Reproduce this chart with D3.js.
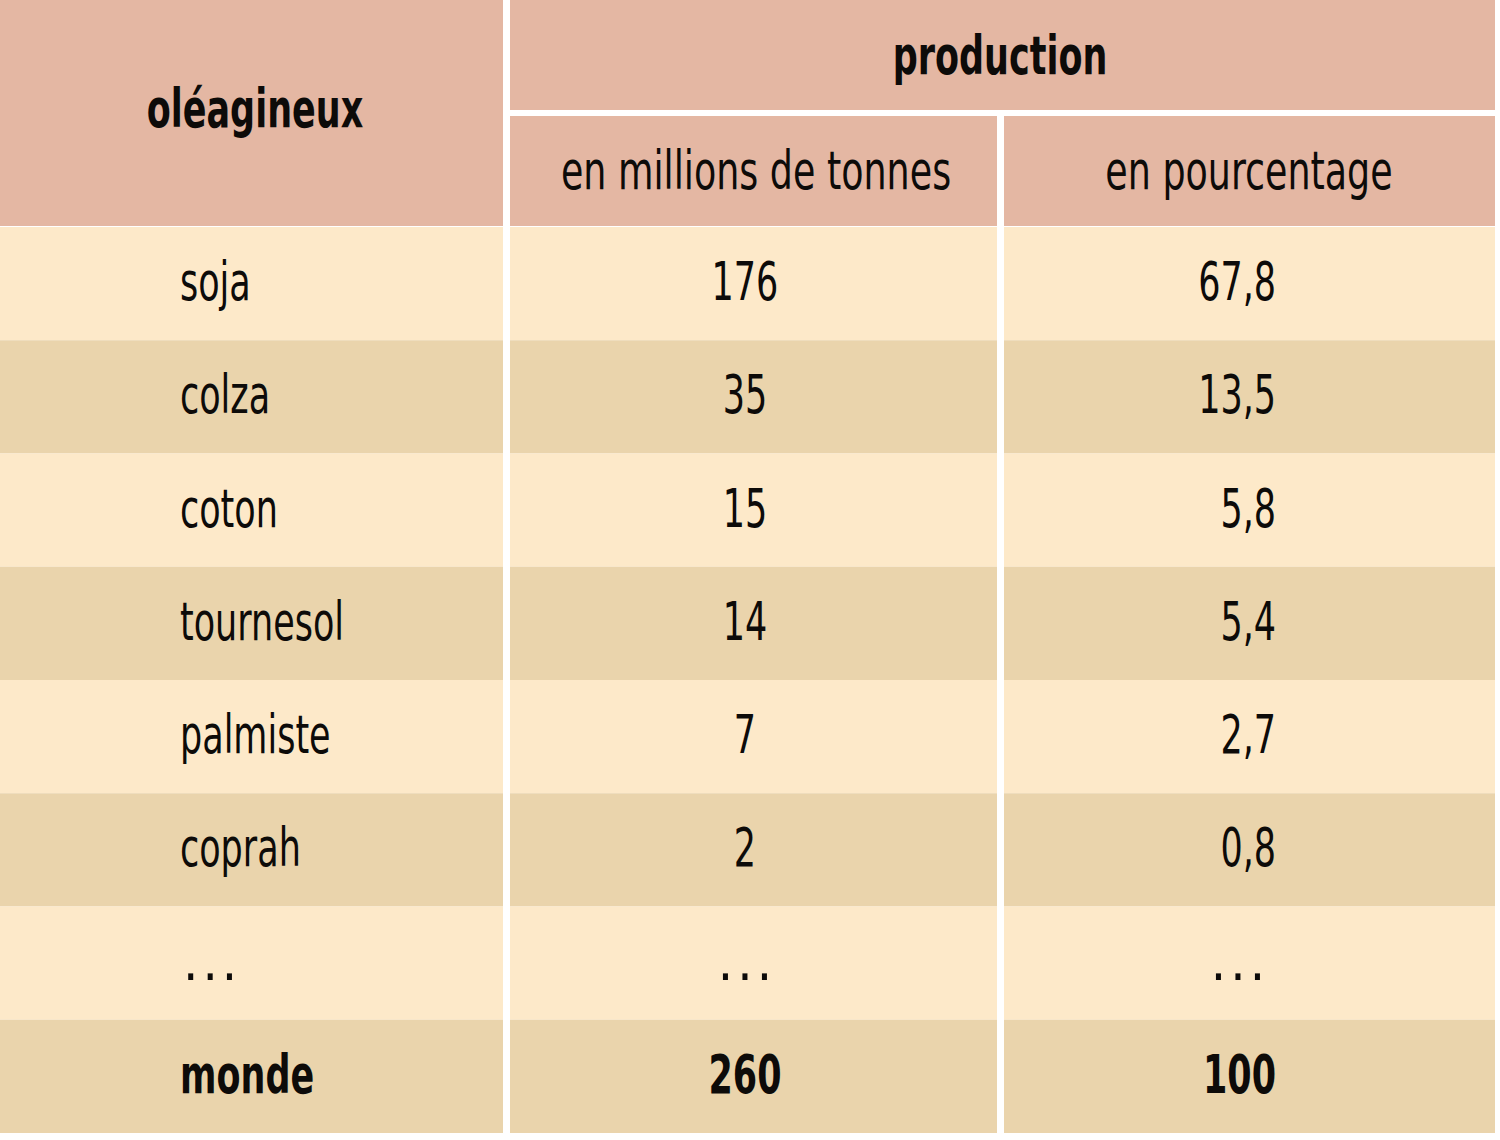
<!DOCTYPE html>
<html>
<head>
<meta charset="utf-8">
<script src="https://cdn.jsdelivr.net/npm/d3@7"></script>
<style>
  body { margin: 0; background: #fff; }
  text { font-family: "DejaVu Sans Condensed", "Liberation Sans Narrow", sans-serif; fill: #0d0b09; }
</style>
</head>
<body>
<div id="chart"></div>
<script>
var crops = ['soja', 'colza', 'coton', 'tournesol', 'palmiste', 'coprah', '...', 'monde'];
var tonnes = ['176', '35', '15', '14', '7', '2', '...', '260'];
var percents = ['67,8', '13,5', '5,8', '5,4', '2,7', '0,8', '...', '100'];

var headerTitle = 'oléagineux';
var groupTitle = 'production';
var subTitles = ['en millions de tonnes', 'en pourcentage'];

var width = 1500, height = 1140;
var headColor = '#e4b7a3', lightRow = '#fde9c9', darkRow = '#ead4ac';
var squeeze = 0.72;   // no condensed Myriad here, so squash DejaVu horizontally

var svg = d3.select('#chart').append('svg')
    .attr('width', width)
    .attr('height', height);

// columns: [x0, x1]
var cols = [[0, 503], [510, 997], [1004, 1495]];

var y = d3.scaleBand()
    .domain(d3.range(crops.length))
    .range([227, 1133]);

function place(x, yy, s) {
    return 'translate(' + x + ',' + yy + ') scale(' + (s || squeeze) + ',1)';
}
function isDots(t) { return t === '...'; }

// header
svg.append('rect').attr('x', cols[0][0]).attr('y', 0)
    .attr('width', cols[0][1] - cols[0][0]).attr('height', 226).attr('fill', headColor);
svg.append('rect').attr('x', cols[1][0]).attr('y', 0)
    .attr('width', cols[2][1] - cols[1][0]).attr('height', 110).attr('fill', headColor);
[1, 2].forEach(function (c) {
    svg.append('rect').attr('x', cols[c][0]).attr('y', 116)
        .attr('width', cols[c][1] - cols[c][0]).attr('height', 110).attr('fill', headColor);
});

svg.append('text').attr('transform', place(255, 127))
    .attr('text-anchor', 'middle').attr('font-size', 54).attr('font-weight', 'bold')
    .text(headerTitle);
svg.append('text').attr('transform', place(1000, 74))
    .attr('text-anchor', 'middle').attr('font-size', 54).attr('font-weight', 'bold')
    .text(groupTitle);
svg.append('text').attr('transform', place(756, 189, 0.75))
    .attr('text-anchor', 'middle').attr('font-size', 54)
    .text(subTitles[0]);
svg.append('text').attr('transform', place(1249, 189, 0.75))
    .attr('text-anchor', 'middle').attr('font-size', 54)
    .text(subTitles[1]);

// body rows
var rows = svg.selectAll('g.row')
    .data(crops)
    .enter().append('g')
    .attr('class', 'row')
    .attr('transform', function (d, i) { return 'translate(0,' + y(i) + ')'; });

cols.forEach(function (c) {
    rows.append('rect')
        .attr('x', c[0])
        .attr('width', c[1] - c[0])
        .attr('height', y.bandwidth())
        .attr('fill', function (d, i) { return i % 2 === 0 ? lightRow : darkRow; });
});

var last = crops.length - 1;
function weight(d, i) { return i === last ? 'bold' : 'normal'; }

function cell(sel, getText, x, anchor, dotX) {
    sel.append('text')
        .attr('transform', function (d, i) {
            var t = getText(d, i);
            return isDots(t) ? place(dotX, 73, 1) : place(x, 73);
        })
        .attr('text-anchor', function (d, i) { return isDots(getText(d, i)) ? (dotX === 183 ? 'start' : 'middle') : anchor; })
        .attr('letter-spacing', function (d, i) { return isDots(getText(d, i)) ? 4 : null; })
        .attr('font-size', 54)
        .attr('font-weight', weight)
        .text(getText);
}

cell(rows, function (d) { return d; }, 180, 'start', 183);
cell(rows, function (d, i) { return tonnes[i]; }, 745, 'middle', 747);
cell(rows, function (d, i) { return percents[i]; }, 1276, 'end', 1240);
</script>
</body>
</html>
